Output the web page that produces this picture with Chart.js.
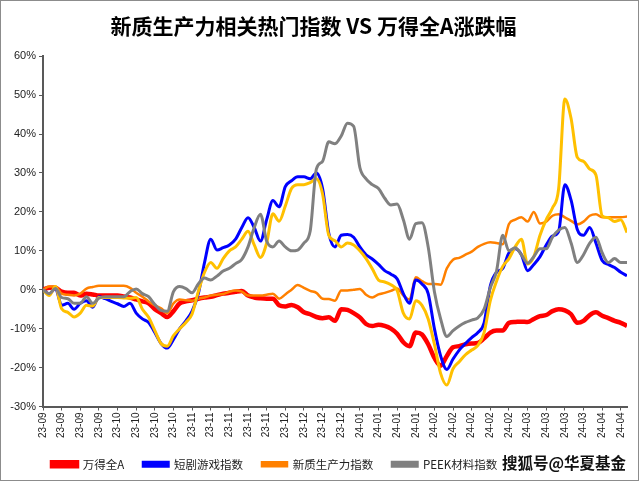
<!DOCTYPE html>
<html>
<head>
<meta charset="utf-8">
<script src="https://cdn.jsdelivr.net/npm/chart.js@4.4.1/dist/chart.umd.min.js"></script>
<style>
  html, body { margin: 0; padding: 0; background: #fff; overflow: hidden; }
  #wrap { position: relative; width: 639px; height: 481px; }
  #frame { position: absolute; left: 0; top: 0; width: 639px; height: 481px; box-sizing: border-box;
           border: 1px solid #8c8c8c; pointer-events: none; }
  #mark { position: absolute; left: 502px; top: 451px; font: bold 15.5px "Noto Sans CJK SC", sans-serif;
          color: #111; white-space: nowrap;
          text-shadow: 1px 1px 0 #fff, -1px -1px 0 #fff, 1px -1px 0 #fff, -1px 1px 0 #fff; }
</style>
</head>
<body>
<div id="wrap">
  <canvas id="chart" width="639" height="481"></canvas>
  <div id="mark">搜狐号@华夏基金</div>
  <div id="frame"></div>
</div>
<script>
// 周度刻度标签（每格约5个交易日）
const tickLabels = ["23-09","23-09","23-09","23-09","23-10","23-10","23-10","23-10",
    "23-11","23-11","23-11","23-11","23-11","23-12","23-12","23-12","23-12",
    "24-01","24-01","24-01","24-01","24-02","24-02","24-02","24-02","24-02",
    "24-03","24-03","24-03","24-03","24-04","24-04"];

// 涨跌幅 (%)，每个刻度间隔取3个点
const wind = [0,0.5,0.5,-0.5,-0.8,-0.8,-1.5,-1.0,-1.2,-1.5,
    -1.5,-1.5,-1.5,-1.7,-2.0,-2.5,-3.0,-3.5,-5,-6,
    -7,-5.5,-3.5,-3,-2.7,-2.3,-2.0,-1.8,-1.4,-1.0,
    -0.8,-0.5,-0.3,-1.5,-2.0,-2.2,-2.3,-2.3,-4.0,-4.3,
    -3.9,-4.5,-5.8,-6.3,-7.0,-7.3,-7.1,-8,-5,-5.2,
    -6,-7.1,-8.8,-9.3,-9.0,-9.3,-10,-11.3,-13.5,-14.5,
    -11,-11.5,-14,-17.5,-19.5,-17,-14.8,-14.5,-14,-13.8,
    -13.7,-12.5,-11,-10.5,-10.5,-8.5,-8.3,-8.2,-8.3,-7.5,
    -6.8,-6.5,-5.5,-5.0,-5.3,-6.3,-8.5,-8,-6.5,-5.8,
    -6.7,-7.3,-8.0,-8.5,-9.3];

const shortDrama = [0,-1,0.3,-4,-3.5,-5,-3.5,-2.8,-4.5,-1.8,
    -2.3,-3,-3.6,-4.3,-3.5,-6,-7.5,-8.4,-11,-13.8,
    -15,-12.8,-10,-8,-5.5,-1,7,13,10.2,10.8,
    11.5,13,16,18.5,16,12.5,18,22.9,21.3,26.5,
    28,29,29,28.5,30,26,14.5,11,14,14.2,
    13.5,11,9,7.9,6.5,4.9,4.0,2.8,-1,-3.5,
    2.5,1.5,-1,-10,-17,-20.5,-17.8,-15.5,-13.8,-12.3,
    -11,-8.5,1,4.5,5.5,9.5,10.5,9,4.9,6.5,
    8.5,11.5,13.8,15,27,23,15.5,14,16,12,
    7.5,6.5,5.7,4.5,3.6];

const newQuality = [0,0.8,0.8,-1,-1.3,-1.5,-1,0.3,0.7,1,
    1,1,1,1,0.5,-0.8,-1.8,-3,-4,-4.8,
    -6,-3.5,-2.5,-2.7,-2.8,-2.3,-2,-1.5,-1.3,-1.1,
    -0.5,-0.2,-0.5,-1.5,-1.5,-1.5,-1.3,-1,-2.3,-1.2,
    0,1.2,0.5,-0.3,-0.8,-2.3,-2.4,-2.8,-0.2,-0.2,
    0,0.2,-1.3,-2,-1.2,-0.8,-0.3,0.3,-1.5,-2.5,
    3.2,2.2,1.5,1.5,1.3,5.5,7.7,8.2,9,9.8,
    11,11.8,12.2,12,11.7,16.9,18,18.6,17.5,20,
    17,17.5,19,19.4,18.6,17.7,16.8,17.5,19,19.4,
    18.6,18.6,18.6,18.6,18.8];

const peek = [0,-1,0.3,-2,-2.3,-3.5,-3.5,-1.8,-3.5,-2.2,
    -1.8,-1.8,-1.8,-1.8,-0.5,0.2,-1,-1.8,-3.8,-5.3,
    -5.5,-0.5,0.8,0.3,-0.8,1.5,3,2.5,3.5,4.8,
    5.5,6.7,7.8,11,16,19.4,12.5,11,12.5,11,
    10,10.2,12,15,31,33,38,37.5,39.5,42.8,
    42,31.4,28.5,27,26,23.5,21.8,22,18,13,
    17,17.2,11,-0.5,-7.5,-12,-10.5,-9.3,-8.4,-7.8,
    -7.2,-5,0.5,4.8,14,10,10.8,9,6.8,8.5,
    10.5,10.5,13.5,15.3,16,12,7,9,12,13.5,
    9.5,7,8,7,7];

// 第五条线（图例被水印遮住）
const goldLine = [0,-1.5,0.8,-4.9,-5.8,-7,-6,-4,-4.2,-2,
    -2,-2,-2,-2.1,-2.2,-2,-5,-7.1,-10.5,-13.8,
    -14.5,-11.8,-10,-8.4,-6.2,-0.5,4.5,7,5.5,8,
    10,11,13,15,11.5,8.3,12,19.5,17.6,21.5,
    26,27,27,27.5,28.5,24.6,14,12.6,11,12,
    11.5,10,8,5.4,2.5,2,1.3,-0.2,-6,-7.5,
    -2.8,-4,-7.5,-14,-21.5,-24.5,-20.3,-18.5,-16.7,-15.5,
    -14.3,-11,-2.8,2.2,6,8,11,13,6.6,8.5,
    14,18,21,26,49,44,34,33,31,29.5,
    19,18.5,17.5,18,14.7];

const STEP = 3; // 每个刻度3个点

function toPoints(values) {
    return values.map((v, i) => ({ x: i / STEP, y: v }));
}

function makeLine(label, values, color, width, order) {
    return {
        label: label, data: toPoints(values),
        borderColor: color, backgroundColor: color,
        borderWidth: width, pointRadius: 0,
        cubicInterpolationMode: "monotone",
        order: order,
    };
}

// 图例整体右移，和原图左端对齐
const shiftLegend = {
    id: "shiftLegend",
    afterLayout(chart) {
        chart.legend.left += 33;
        chart.legend.right += 33;
    },
};

const fontLegend = '"Liberation Sans Narrow", "Noto Sans CJK SC", sans-serif';

new Chart(document.getElementById("chart"), {
    type: "line",
    data: {
        datasets: [
            makeLine("万得全A", wind, "#FF0000", 4.5, 5),
            makeLine("短剧游戏指数", shortDrama, "#0000FF", 3, 3),
            makeLine("新质生产力指数", newQuality, "#FF8000", 2.5, 4),
            makeLine("PEEK材料指数", peek, "#808080", 3, 1),
            makeLine("", goldLine, "#FFC000", 3, 2),
        ],
    },
    plugins: [shiftLegend],
    options: {
        responsive: false,
        animation: false,
        layout: { padding: { left: 0, right: 12, top: 0, bottom: 1 } },
        plugins: {
            title: {
                display: true,
                text: "新质生产力相关热门指数 VS 万得全A涨跌幅",
                color: "#000",
                font: { size: 21, weight: "bold", family: '"Noto Sans CJK SC", sans-serif' },
                padding: { top: 13, bottom: 18 },
            },
            legend: {
                position: "bottom",
                align: "start",
                labels: {
                    filter: item => item.text !== "",
                    sort: (a, b) => a.datasetIndex - b.datasetIndex,
                    boxWidth: 25, boxHeight: 4,
                    padding: 19,
                    color: "#222",
                    font: { size: 11.5, family: fontLegend },
                },
            },
            tooltip: { enabled: false },
        },
        scales: {
            x: {
                type: "linear",
                min: 0,
                max: (wind.length - 1) / STEP,
                afterFit: s => { s.height = 33; },
                grid: { drawOnChartArea: false, tickLength: 4, color: "#595959" },
                border: { color: "#595959", width: 2 },
                ticks: {
                    stepSize: 1, includeBounds: false, autoSkip: false,
                    maxRotation: 90, minRotation: 90, padding: 2,
                    color: "#222", font: { size: 10, family: '"Liberation Sans", sans-serif' },
                    callback: v => tickLabels[v] ?? "",
                },
            },
            y: {
                min: -30, max: 60,
                afterFit: s => { s.width = 43; },
                grid: { drawOnChartArea: false, tickLength: 4, color: "#595959" },
                border: { color: "#595959", width: 2 },
                ticks: {
                    stepSize: 10, padding: 3,
                    color: "#222", font: { size: 11, family: '"Liberation Sans", sans-serif' },
                    callback: v => v + "%",
                },
            },
        },
    },
});
</script>
</body>
</html>
